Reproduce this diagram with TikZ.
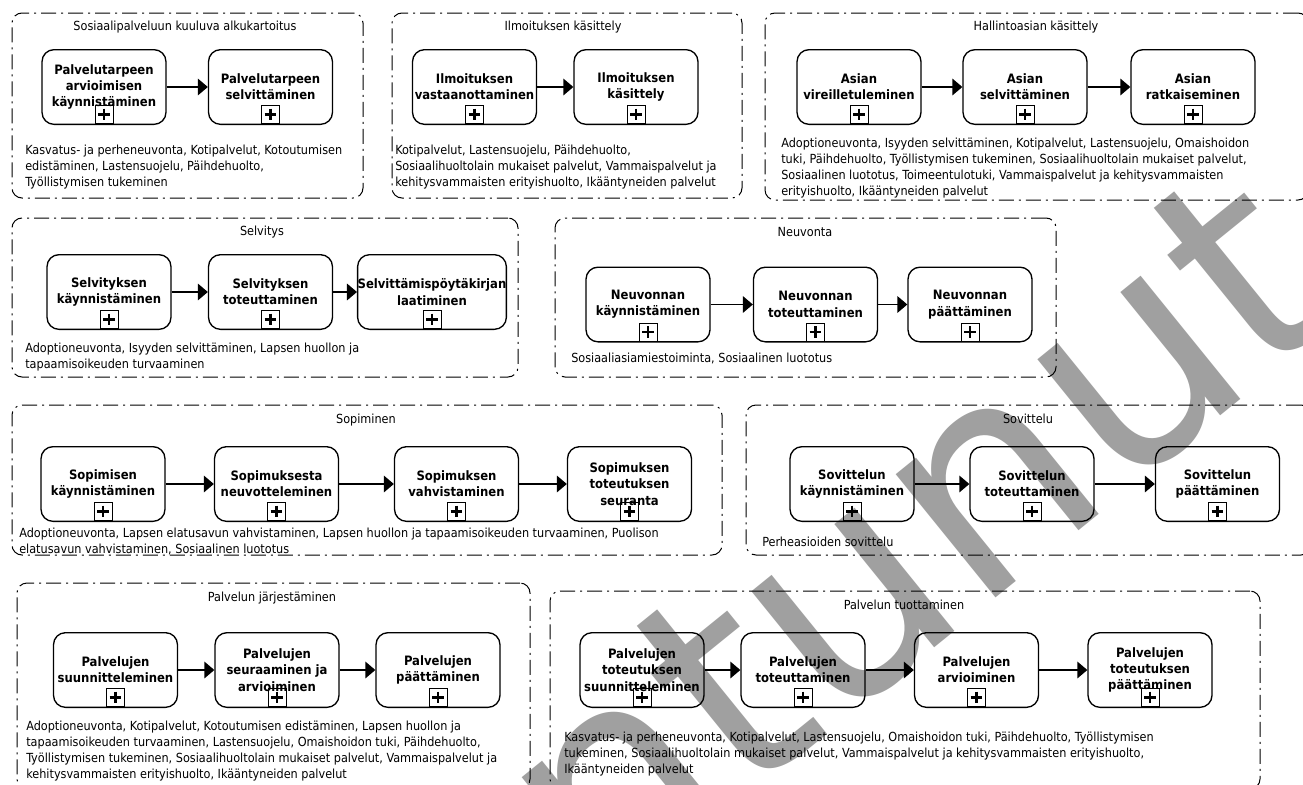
\documentclass[tikz,border=0pt]{standalone}
\usepackage{fontspec}
\IfFontExistsTF{DejaVu Sans Condensed}{%
  \setmainfont{DejaVu Sans Condensed}[BoldFont={DejaVu Sans Condensed Bold}]%
  \newcommand\descsize{\fontsize{9.4pt}{11.85pt}\selectfont}%
  \newcommand\labelsize{\fontsize{9.7pt}{12.2pt}\selectfont}%
}{%
  \setmainfont{DejaVu Sans}%
  \newcommand\descsize{\fontsize{8.4pt}{11.85pt}\selectfont}%
  \newcommand\labelsize{\fontsize{8.7pt}{12.2pt}\selectfont}%
}
\newfontfamily\wmfont{DejaVu Sans}
\usetikzlibrary{arrows.meta}
\definecolor{wmgray}{HTML}{A0A0A0}

\tikzset{
  grp/.style={draw, line width=0.75pt,
    dash pattern=on 11.25pt off 3.75pt on 1.5pt off 3.75pt,
    rounded corners=7.5pt, inner sep=0},
  grptitle/.style={font=\descsize, inner sep=0},
  desc/.style={font=\descsize, anchor=north west, align=left, inner sep=0},
  taskstyle/.style={draw, line width=1pt, rounded corners=9pt,
    minimum width=93pt, minimum height=56pt, align=center,
    font=\labelsize\bfseries, inner sep=0},
  plusmark/.style={draw, line width=0.7pt, minimum size=13.5pt, inner sep=0,
    anchor=south,
    path picture={\draw[line width=1.6pt]
      ([yshift=-2.4pt]path picture bounding box.north) --
      ([yshift=2.4pt]path picture bounding box.south)
      ([xshift=2.4pt]path picture bounding box.west) --
      ([xshift=-2.4pt]path picture bounding box.east);}},
  flow/.style={line width=1pt, -{Triangle[length=7.5pt,width=12.5pt]}},
  watermark/.style={text=wmgray, font=\wmfont\fontsize{217.5pt}{217.5pt}\selectfont,
    inner sep=0, anchor=base west, rotate=39},
}

% subprocess box with its collapsed-subprocess marker
\newcommand\taskbox[4]{%
  \node[taskstyle] (#1) at (#2,#3) {#4};
  \node[plusmark] (#1-plus) at ([yshift=0.8pt]#1.south) {};
}
% dash-dotted group frame given by its corners
\newcommand\grpbox[5]{%
  \node[grp, minimum width={(#4-#2)*0.75pt}, minimum height={(#5-#3)*0.75pt}]
    (#1) at ({(#2+#4)/2},{(#3+#5)/2}) {};
}

\begin{document}
\begin{tikzpicture}[x=0.75pt,y=-0.75pt]
\useasboundingbox (0,0) rectangle (1303,785);
\fill[white] (0,0) rectangle (1303,785);
\clip (0,0) rectangle (1303,785);

% status stamp behind the diagram
\node[watermark] (stamp) at (-98,1484) {Vanhentunut};

% --- Sosiaalipalveluun kuuluva alkukartoitus
\grpbox{grp1}{12}{13}{363}{198}
\node[grptitle] (grp1-title) at (185,27) {Sosiaalipalveluun kuuluva alkukartoitus};
\taskbox{a1}{104}{87}{Palvelutarpeen\\arvioimisen\\käynnistäminen}
\taskbox{a2}{270.5}{87}{Palvelutarpeen\\selvittäminen}
\draw[flow] (a1) -- (a2);
\node[desc] (txt1) at (25,145) {Kasvatus- ja perheneuvonta, Kotipalvelut, Kotoutumisen\\edistäminen, Lastensuojelu, Päihdehuolto,\\Työllistymisen tukeminen};

% --- Ilmoituksen käsittely
\grpbox{grp2}{392}{13}{742}{198}
\node[grptitle] (grp2-title) at (563,27) {Ilmoituksen käsittely};
\taskbox{b1}{474.5}{87}{Ilmoituksen\\vastaanottaminen}
\taskbox{b2}{636}{87}{Ilmoituksen\\käsittely}
\draw[flow] (b1) -- (b2);
\node[desc] (txt2) at (395,145) {Kotipalvelut, Lastensuojelu, Päihdehuolto,\\Sosiaalihuoltolain mukaiset palvelut, Vammaispalvelut ja\\kehitysvammaisten erityishuolto, Ikääntyneiden palvelut};

% --- Hallintoasian käsittely
\grpbox{grp3}{765}{13}{1308}{200}
\node[grptitle] (grp3-title) at (1036,27) {Hallintoasian käsittely};
\taskbox{c1}{859}{87}{Asian\\vireilletuleminen}
\taskbox{c2}{1025}{87}{Asian\\selvittäminen}
\taskbox{c3}{1193}{87}{Asian\\ratkaiseminen}
\draw[flow] (c1) -- (c2);
\draw[flow] (c2) -- (c3);
\node[desc] (txt3) at (781,138) {Adoptioneuvonta, Isyyden selvittäminen, Kotipalvelut, Lastensuojelu, Omaishoidon\\tuki, Päihdehuolto, Työllistymisen tukeminen, Sosiaalihuoltolain mukaiset palvelut,\\Sosiaalinen luototus, Toimeentulotuki, Vammaispalvelut ja kehitysvammaisten\\erityishuolto, Ikääntyneiden palvelut};

% --- Selvitys
\grpbox{grp4}{12}{218}{518}{377}
\node[grptitle] (grp4-title) at (262,232) {Selvitys};
\taskbox{d1}{109}{292}{Selvityksen\\käynnistäminen}
\taskbox{d2}{270.5}{292}{Selvityksen\\toteuttaminen}
\taskbox{d3}{432}{292}{Selvittämispöytäkirjan\\laatiminen}
\draw[flow] (d1) -- (d2);
\draw[flow] (d2) -- (d3);
\node[desc] (txt4) at (25,343) {Adoptioneuvonta, Isyyden selvittäminen, Lapsen huollon ja\\tapaamisoikeuden turvaaminen};

% --- Neuvonta
\grpbox{grp5}{555}{218}{1056}{377}
\node[grptitle] (grp5-title) at (805,232) {Neuvonta};
\taskbox{e1}{648}{304.5}{Neuvonnan\\käynnistäminen}
\taskbox{e2}{815.5}{304.5}{Neuvonnan\\toteuttaminen}
\taskbox{e3}{970}{304.5}{Neuvonnan\\päättäminen}
\draw[flow] (e1) -- (e2);
\draw[flow] (e2) -- (e3);
\node[desc] (txt5) at (571,353) {Sosiaaliasiamiestoiminta, Sosiaalinen luototus};

% --- Sopiminen
\grpbox{grp6}{12}{405}{722}{555}
\node[grptitle] (grp6-title) at (366,420) {Sopiminen};
\taskbox{f1}{103}{484}{Sopimisen\\käynnistäminen}
\taskbox{f2}{276.5}{484}{Sopimuksesta\\neuvotteleminen}
\taskbox{f3}{456.5}{484}{Sopimuksen\\vahvistaminen}
\taskbox{f4}{629.5}{484}{Sopimuksen\\toteutuksen\\seuranta}
\draw[flow] (f1) -- (f2);
\draw[flow] (f2) -- (f3);
\draw[flow] (f3) -- (f4);
\node[desc] (txt6) at (19,528) {Adoptioneuvonta, Lapsen elatusavun vahvistaminen, Lapsen huollon ja tapaamisoikeuden turvaaminen, Puolison\\elatusavun vahvistaminen, Sosiaalinen luototus};

% --- Sovittelu
\grpbox{grp7}{746}{405}{1311}{555}
\node[grptitle] (grp7-title) at (1028,419) {Sovittelu};
\taskbox{s1}{852}{484}{Sovittelun\\käynnistäminen}
\taskbox{s2}{1032}{484}{Sovittelun\\toteuttaminen}
\taskbox{s3}{1217.5}{484}{Sovittelun\\päättäminen}
\draw[flow] (s1) -- (s2);
\draw[flow] (s2) -- (s3);
\node[desc] (txt7) at (762,537) {Perheasioiden sovittelu};

% --- Palvelun järjestäminen
\grpbox{grp8}{17}{583}{530}{789}
\node[grptitle] (grp8-title) at (272,598) {Palvelun järjestäminen};
\taskbox{j1}{115.5}{670}{Palvelujen\\suunnitteleminen}
\taskbox{j2}{277}{670}{Palvelujen\\seuraaminen ja\\arvioiminen}
\taskbox{j3}{438}{670}{Palvelujen\\päättäminen}
\draw[flow] (j1) -- (j2);
\draw[flow] (j2) -- (j3);
\node[desc] (txt8) at (26,721) {Adoptioneuvonta, Kotipalvelut, Kotoutumisen edistäminen, Lapsen huollon ja\\tapaamisoikeuden turvaaminen, Lastensuojelu, Omaishoidon tuki, Päihdehuolto,\\Työllistymisen tukeminen, Sosiaalihuoltolain mukaiset palvelut, Vammaispalvelut ja\\kehitysvammaisten erityishuolto, Ikääntyneiden palvelut};

% --- Palvelun tuottaminen
\grpbox{grp9}{550}{591}{1260}{789}
\node[grptitle] (grp9-title) at (904,605) {Palvelun tuottaminen};
\taskbox{t1}{642}{670}{Palvelujen\\toteutuksen\\suunnitteleminen}
\taskbox{t2}{803}{670}{Palvelujen\\toteuttaminen}
\taskbox{t3}{976.5}{670}{Palvelujen\\arvioiminen}
\taskbox{t4}{1150}{670}{Palvelujen\\toteutuksen\\päättäminen}
\draw[flow] (t1) -- (t2);
\draw[flow] (t2) -- (t3);
\draw[flow] (t3) -- (t4);
\node[desc] (txt9) at (564,732) {Kasvatus- ja perheneuvonta, Kotipalvelut, Lastensuojelu, Omaishoidon tuki, Päihdehuolto, Työllistymisen\\tukeminen, Sosiaalihuoltolain mukaiset palvelut, Vammaispalvelut ja kehitysvammaisten erityishuolto,\\Ikääntyneiden palvelut};
\end{tikzpicture}
\end{document}
